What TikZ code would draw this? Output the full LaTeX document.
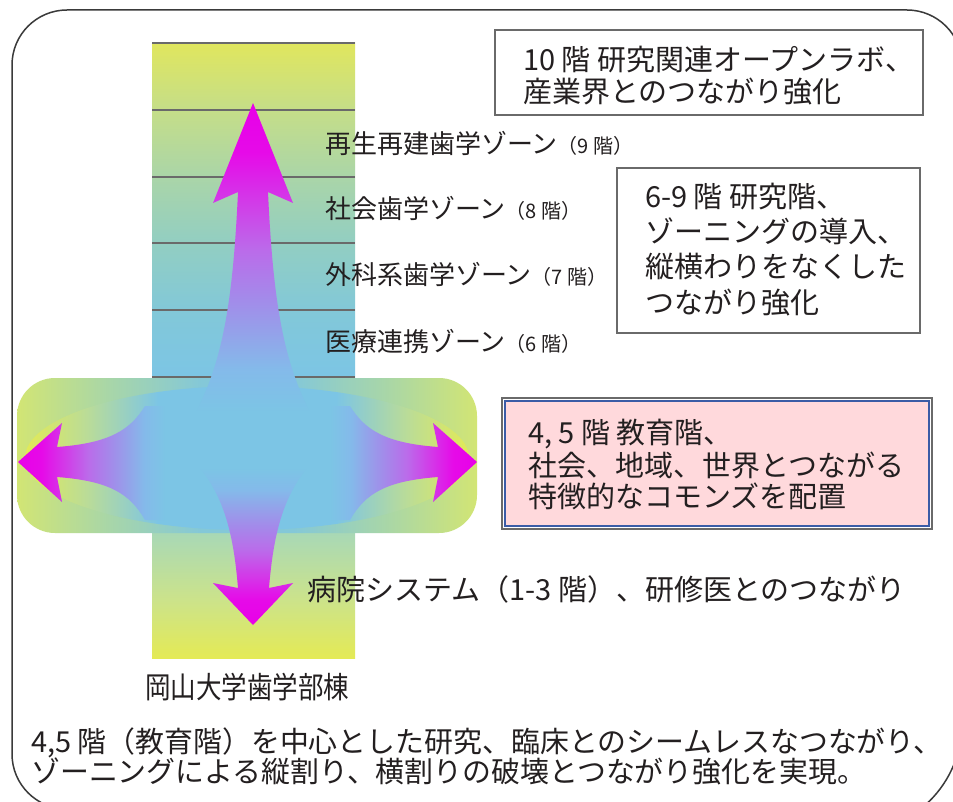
\documentclass[tikz,border=0pt]{standalone}
\usepackage{fontspec}
\setmainfont{Noto Sans CJK JP}
\usepackage{graphicx}
\definecolor{ink}{HTML}{231F20}
\definecolor{frameC}{HTML}{3A3A3A}
\definecolor{lineC}{HTML}{6A6A6A}
\definecolor{cB}{HTML}{7CC5E5}
\definecolor{cY}{HTML}{E4EA55}
\definecolor{c1}{HTML}{CCE38A}
\definecolor{c2}{HTML}{A8D8B6}
\definecolor{c3}{HTML}{82C8D8}
\definecolor{c4}{HTML}{92CEC2}
\definecolor{c5}{HTML}{AAD5A8}
\definecolor{c6}{HTML}{C5DE88}
\definecolor{cTop}{HTML}{E0E65E}
\definecolor{bEnd}{HTML}{D2E574}
\definecolor{bMid}{HTML}{A8D6A8}
\definecolor{bCen}{HTML}{84C8D8}
\definecolor{eEnd}{HTML}{E2EA56}
\definecolor{eMid}{HTML}{BADC98}
\definecolor{mag}{HTML}{E800E8}
\definecolor{mag2}{HTML}{E60AE8}
\definecolor{vio1}{HTML}{D23BE8}
\definecolor{vio2}{HTML}{BA6CEA}
\definecolor{vio3}{HTML}{A28CEA}
\definecolor{vio4}{HTML}{84BAEA}
\definecolor{pinkC}{HTML}{FFD9DC}
\definecolor{blueB}{HTML}{3B5CA6}
\pgfdeclareverticalshading{colshade}{100bp}{color(0bp)=(cY); color(25bp)=(cY); color(29.7bp)=(c1); color(35.2bp)=(c2); color(41.5bp)=(cB); color(47.8bp)=(cB); color(53.3bp)=(c3); color(58.7bp)=(c4); color(64.1bp)=(c5); color(69.6bp)=(c6); color(75bp)=(cTop); color(100bp)=(cTop)}
\pgfdeclarehorizontalshading{bandshade}{100bp}{color(0bp)=(bEnd); color(25bp)=(bEnd); color(35bp)=(bMid); color(45bp)=(bCen); color(55bp)=(bCen); color(65bp)=(bMid); color(75bp)=(bEnd); color(100bp)=(bEnd)}
\pgfdeclarehorizontalshading{ellshade}{100bp}{color(0bp)=(eEnd); color(25bp)=(eEnd); color(32bp)=(eMid); color(40bp)=(cB); color(60bp)=(cB); color(68bp)=(eMid); color(75bp)=(eEnd); color(100bp)=(eEnd)}
\pgfdeclareverticalshading{arrshade}{100bp}{color(0bp)=(cB); color(25bp)=(cB); color(32bp)=(vio4); color(43bp)=(vio3); color(51bp)=(vio2); color(59bp)=(vio1); color(67bp)=(mag2); color(75bp)=(mag); color(100bp)=(mag)}
\newcommand\zonefl[1]{{\fontsize{20}{24}\selectfont（#1 階）}}
\tikzset{
  txt/.style={anchor=base west, inner sep=0pt, text=ink},
  big/.style={txt, font=\fontsize{29}{35}\selectfont},
  zone/.style={txt, font=\fontsize{26}{30}\selectfont},
  bldg/.style={txt, font=\fontsize{30}{36}\selectfont},
  foot/.style={txt, font=\fontsize{28.9}{30}\selectfont},
  floorline/.style={draw=lineC, line width=1.3pt},
  plainbox/.style={draw=lineC, line width=1.5pt, fill=white},
  frame/.style={draw=frameC, line width=1.5pt}
}
\begin{document}
\begin{tikzpicture}[x=1pt, y=-1pt]
\useasboundingbox (0,0) rectangle (953,802);
\clip (0,0) rectangle (953,802);
\fill[white] (0,0) rectangle (953,802);
% building column
\shade[shading=colshade] (152,43) rectangle (355,658);
% wide band (4-5 floors)
\shade[shading=bandshade, rounded corners=38pt] (17,378) rectangle (477,533);
\shade[shading=ellshade] (247,458) ellipse [x radius=222pt, y radius=72pt];
\fill[cB, rounded corners=15pt] (143,408) rectangle (353,519);
% floor lines
\foreach \yy in {43,110,177,243,310,377} \draw[floorline] (152,\yy) -- (355,\yy);
% arrows
\shade[shading=arrshade] (253,103) -- (293,203) -- (268,192) .. controls (273,300) and (283,360) .. (310,412) -- (196,412) .. controls (223,360) and (233,300) .. (238,192) -- (213,203) -- cycle;
\shade[shading=arrshade, shading angle=180] (253,625) -- (213,583) -- (238,588) .. controls (234,540) and (226,500) .. (200,468) -- (307,468) .. controls (281,500) and (273,540) .. (269,588) -- (293,583) -- cycle;
\shade[shading=arrshade, shading angle=90] (18,462) -- (62,423) -- (57,447) .. controls (110,443) and (130,430) .. (145,406) -- (165,406) -- (165,520) -- (145,520) .. controls (130,494) and (110,481) .. (57,477) -- (62,502) -- cycle;
\shade[shading=arrshade, shading angle=-90] (477,462) -- (433,423) -- (438,447) .. controls (385,443) and (365,430) .. (350,406) -- (330,406) -- (330,520) -- (350,520) .. controls (365,494) and (385,481) .. (438,477) -- (433,502) -- cycle;
% zone labels
\node[zone] (z9) at (325,154) {再生再建歯学ゾーン\zonefl{9}};
\node[zone] (z8) at (325,219) {社会歯学ゾーン\zonefl{8}};
\node[zone] (z7) at (325,285) {外科系歯学ゾーン\zonefl{7}};
\node[zone] (z6) at (325,352) {医療連携ゾーン\zonefl{6}};
% boxes
\draw[plainbox] (495,30) rectangle (923,115);
\node[big] (b10a) at (523,71) {10 階 研究関連オープンラボ、};
\node[big] (b10b) at (523,102.5) {産業界とのつながり強化};
\draw[plainbox] (617,168) rectangle (920,333);
\node[big] (b69a) at (645,208) {6-9 階 研究階、};
\node[big] (b69b) at (645,243) {ゾーニングの導入、};
\node[big] (b69c) at (645,278) {縦横わりをなくした};
\node[big] (b69d) at (645,313) {つながり強化};
\draw[draw=lineC, line width=1.2pt] (502,398) rectangle (932,529);
\draw[draw=blueB, line width=2.5pt, fill=pinkC] (505,401) rectangle (929,526);
\node[big] (b45a) at (528,443) {4, 5 階 教育階、};
\node[big] (b45b) at (528,476) {社会、地域、世界とつながる};
\node[big] (b45c) at (528,507) {特徴的なコモンズを配置};
% hospital
\node[big] (hosp) at (307,600) {病院システム（1-3 階）、研修医とのつながり};
% building name
\node[bldg] (bname) at (145,698.5) {\scalebox{0.85}[1]{岡山大学歯学部棟}};
% footer
\node[foot] (f1) at (31,752) {4,5 階（教育階）を中心とした研究、臨床とのシームレスなつながり、};
\node[foot] (f2) at (31,782) {ゾーニングによる縦割り、横割りの破壊とつながり強化を実現。};
% outer frame
\draw[frame, rounded corners=55pt] (480,809) -- (12,809) -- (12,10) -- (962,10) -- (962,420);
\draw[frame, rounded corners=110pt] (962,400) -- (962,833) -- (480,833);
\end{tikzpicture}
\end{document}
